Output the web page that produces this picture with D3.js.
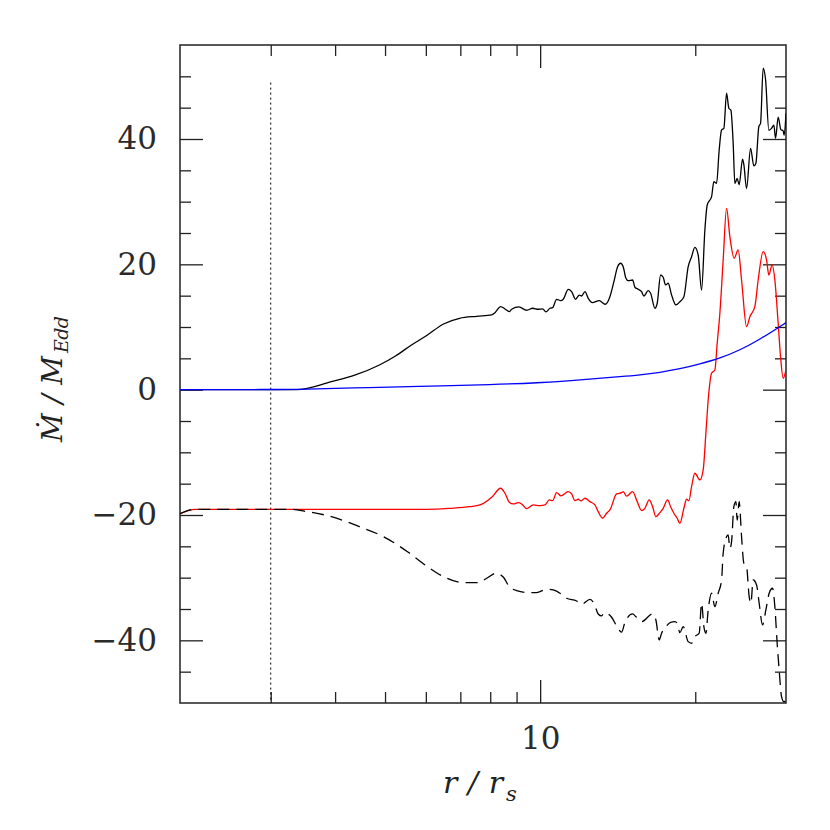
<!DOCTYPE html>
<html><head><meta charset="utf-8">
<script src="https://cdn.jsdelivr.net/npm/d3@7"></script>
<style>body{margin:0;background:#fff}</style>
</head><body><svg id="c" width="830" height="830"></svg>
<script>
// ---- data: [r/r_s, Mdot/M_Edd] ----
const totalRate = [[2.0,0],[3.373,0],[3.934,1.28],[4.379,2.35],[4.875,3.94],[5.239,5.38],[5.627,7.13],[6.044,8.73],[6.492,10.48],[6.974,11.39],[7.531,11.71],[8.052,11.92],[8.172,12.29],[8.382,13.25],[8.545,12.88],[8.711,12.45],[8.804,12.83],[9.096,13.2],[9.414,12.67],[9.670,12.99],[9.915,12.83],[10.111,12.88],[10.262,12.4],[10.447,12.99],[10.574,13.08],[10.764,14.42],[10.973,14.2],[11.087,14.42],[11.337,16.0],[11.510,15.64],[11.717,14.42],[11.908,15.1],[12.036,14.95],[12.215,15.64],[12.397,14.58],[12.621,13.88],[13.020,14.2],[13.374,13.63],[13.658,14.84],[13.904,17.23],[14.135,19.63],[14.326,20.17],[14.494,19.63],[14.670,17.78],[14.821,17.39],[15.115,17.5],[15.272,16.34],[15.499,16.02],[15.736,15.64],[15.897,14.95],[16.207,15.8],[16.381,15.38],[16.699,12.99],[16.873,13.79],[17.129,18.3],[17.330,17.93],[17.516,16.71],[17.721,16.98],[17.992,15.11],[18.342,13.52],[18.672,14.04],[19.009,14.84],[19.378,19.63],[19.673,21.22],[19.966,22.72],[20.263,21.49],[20.572,15.9],[20.878,25.48],[21.095,29.47],[21.512,30.8],[21.734,33.19],[21.998,32.92],[22.256,38.25],[22.495,41.44],[22.727,41.7],[23.003,47.3],[23.241,44.9],[23.450,44.6],[23.692,39.3],[23.872,32.9],[24.120,33.7],[24.335,32.7],[24.706,36.8],[24.851,35.9],[25.153,32.1],[25.606,38.5],[25.986,35.7],[26.220,36.1],[26.574,42.0],[26.776,42.5],[27.090,51.3],[27.381,49.5],[27.787,41.4],[28.124,41.7],[28.415,42.2],[28.632,40.1],[28.967,43.5],[29.318,41.5],[29.622,41.3],[29.755,40.6],[30.0,44.1]];

const netRate = [[2.0,-19.8],[2.141,-19.09],[3.42,-19.09],[6.044,-19.09],[6.683,-18.93],[7.308,-18.67],[7.642,-18.4],[8.054,-17.17],[8.382,-15.73],[8.545,-16.53],[8.711,-17.97],[8.868,-18.24],[9.068,-18.03],[9.206,-18.24],[9.414,-18.99],[9.696,-18.4],[9.990,-18.51],[10.216,-18.4],[10.415,-17.6],[10.574,-17.71],[10.764,-16.43],[10.973,-16.96],[11.337,-16.28],[11.510,-16.64],[11.681,-17.71],[11.855,-17.49],[11.999,-17.76],[12.215,-17.33],[12.491,-17.87],[12.773,-18.4],[12.962,-19.47],[13.219,-20.52],[13.457,-19.72],[13.658,-19.2],[14.072,-16.64],[14.391,-16.43],[14.494,-16.28],[14.715,-17.0],[15.115,-16.28],[15.430,-17.87],[15.736,-19.3],[15.969,-18.93],[16.279,-17.6],[16.528,-18.67],[16.774,-20.26],[17.076,-19.62],[17.330,-18.93],[17.673,-17.6],[17.912,-18.67],[18.178,-19.72],[18.448,-20.52],[18.672,-21.32],[19.009,-18.93],[19.239,-17.49],[19.438,-17.71],[19.673,-15.48],[19.966,-13.34],[20.417,-14.41],[20.720,-12.81],[20.97,-7.0],[21.189,-1.64],[21.512,2.62],[21.832,3.14],[22.058,7.4],[22.325,12.19],[22.657,20.7],[23.003,28.94],[23.345,24.42],[23.798,20.97],[24.227,22.3],[24.597,17.5],[25.153,10.05],[25.527,11.65],[26.103,13.25],[26.492,17.5],[27.090,22.02],[27.503,20.7],[27.787,18.3],[28.202,19.9],[28.543,17.5],[28.967,10.6],[29.278,5.27],[29.622,1.82],[30.0,3.14]];

const inflowRate = [[2.0,-19.8],[2.141,-19.09],[3.289,-19.09],[3.534,-19.47],[3.934,-20.26],[4.458,-21.86],[4.965,-23.46],[5.527,-25.85],[6.044,-28.24],[6.492,-29.84],[6.974,-30.74],[7.093,-30.8],[7.584,-30.8],[7.874,-30.1],[8.209,-29.3],[8.488,-29.94],[8.711,-31.43],[9.003,-32.07],[9.554,-32.39],[9.844,-32.39],[10.293,-31.85],[10.603,-31.96],[11.007,-32.65],[11.256,-33.29],[11.770,-33.72],[12.036,-34.24],[12.491,-33.45],[12.716,-34.08],[12.962,-35.79],[13.160,-36.1],[13.315,-35.58],[13.762,-36.32],[14.072,-37.7],[14.391,-38.7],[14.604,-37.15],[15.115,-35.79],[15.341,-36.22],[15.736,-37.02],[16.528,-35.79],[16.774,-36.75],[17.023,-39.94],[17.206,-38.87],[17.462,-38.07],[17.912,-37.12],[18.260,-37.02],[18.448,-37.28],[18.672,-38.77],[18.950,-37.82],[19.378,-40.21],[19.673,-40.47],[19.966,-39.41],[20.353,-38.87],[20.572,-34.08],[20.785,-37.82],[20.972,-38.87],[21.189,-35.15],[21.512,-32.49],[21.832,-34.63],[22.157,-32.49],[22.495,-30.37],[22.657,-26.1],[23.003,-23.46],[23.169,-23.19],[23.345,-25.31],[23.523,-24.25],[23.765,-18.67],[23.979,-17.87],[24.120,-20.8],[24.335,-17.87],[24.597,-23.46],[24.851,-27.7],[25.153,-28.24],[25.448,-33.03],[25.642,-34.08],[25.906,-30.37],[26.301,-31.16],[26.610,-34.08],[27.015,-37.54],[27.419,-35.15],[27.825,-32.49],[28.250,-31.69],[28.543,-34.63],[28.838,-40.47],[29.097,-44.73],[29.409,-48.99],[29.715,-49.8],[30.0,-49.5]];

const blueRate = [[2.0,0],[3.0,0.02],[3.42,0.06],[4.70,0.35],[6.11,0.58],[8.05,0.8],[9.99,1.1],[11.51,1.44],[13.06,1.82],[14.28,2.07],[15.62,2.35],[17.08,2.75],[18.67,3.3],[20.42,4.1],[22.33,5.0],[24.41,6.3],[26.69,8.0],[30.0,10.7]];

const xDomain = [2, 30];
const yDomain = [-50, 55];
const xMajorTicks = [10];
const xMinorTicks = [3,4,5,6,7,8,9,20];
const yMajorTicks = [-40,-20,0,20,40];
const yMinorTicks = [-45,-35,-30,-25,-15,-10,-5,5,10,15,25,30,35,45,50];
const iscoR = 3, iscoTop = 49;

// ---- drawing ----
const L=180,R=786,T=45,B=703;
const svg = d3.select('#c');
const x = d3.scaleLog().domain(xDomain).range([L,R]);
const y = d3.scaleLinear().domain(yDomain).range([B,T]);
const FONT = "'DejaVu Serif', serif";
const INK = '#222';

svg.append('defs').append('clipPath').attr('id','clip')
  .append('rect').attr('x',L).attr('y',T).attr('width',R-L).attr('height',B-T);

function axis(gen, tr, size, labels, pad){
  gen.tickSize(size).tickPadding(pad||3);
  if(!labels) gen.tickFormat(()=> '');
  const g = svg.append('g').attr('transform',tr).call(gen);
  g.select('.domain').remove();
  g.selectAll('line').attr('stroke',INK).attr('stroke-width',1.3);
  g.selectAll('text').attr('font-family',FONT).attr('font-size',31).attr('fill','#2a2a2a');
  return g;
}
// bottom
axis(d3.axisBottom(x).tickValues(xMinorTicks), `translate(0,${B})`, -11, false);
axis(d3.axisBottom(x).tickValues(xMajorTicks).tickFormat(d3.format('d')), `translate(0,${B})`, -23, true, 24);
// top
axis(d3.axisTop(x).tickValues(xMinorTicks), `translate(0,${T})`, -11, false);
axis(d3.axisTop(x).tickValues(xMajorTicks), `translate(0,${T})`, -23, false);
// left
axis(d3.axisLeft(y).tickValues(yMinorTicks), `translate(${L},0)`, -11, false);
axis(d3.axisLeft(y).tickValues(yMajorTicks).tickFormat(d3.format('d')), `translate(${L},0)`, -23, true, 23);
// right
axis(d3.axisRight(y).tickValues(yMinorTicks), `translate(${R},0)`, -11, false);
axis(d3.axisRight(y).tickValues(yMajorTicks), `translate(${R},0)`, -23, false);

// frame
svg.append('rect').attr('x',L).attr('y',T).attr('width',R-L).attr('height',B-T)
  .attr('fill','none').attr('stroke',INK).attr('stroke-width',1.5);

// ISCO dotted line
svg.append('line').attr('x1',x(iscoR)).attr('x2',x(iscoR)).attr('y1',y(iscoTop)).attr('y2',y(yDomain[0]))
  .attr('stroke','#000').attr('stroke-width',1).attr('stroke-dasharray','2,3');

const line = d3.line().x(d=>x(d[0])).y(d=>y(d[1])).curve(d3.curveMonotoneX);
const smooth = d3.line().x(d=>x(d[0])).y(d=>y(d[1])).curve(d3.curveBasis);
const plot = svg.append('g').attr('clip-path','url(#clip)');
plot.append('path').datum(totalRate).attr('d',line).attr('fill','none').attr('stroke','#000').attr('stroke-width',1.3);
plot.append('path').datum(netRate).attr('d',line).attr('fill','none').attr('stroke','#ff0000').attr('stroke-width',1.3);
plot.append('path').datum(inflowRate).attr('d',line).attr('fill','none').attr('stroke','#000').attr('stroke-width',1.3).attr('stroke-dasharray','12,7');
plot.append('path').datum(blueRate).attr('d',smooth).attr('fill','none').attr('stroke','#0000ff').attr('stroke-width',1.3);

// axis titles
const yt = svg.append('g').attr('transform','translate(62,442) rotate(-90)');
yt.append('text').attr('x',0).attr('y',0).attr('font-family',FONT).attr('font-style','italic')
  .attr('font-size',28).attr('fill',INK).attr('textLength',86).attr('lengthAdjust','spacing').text('Ṁ/M');
yt.append('text').attr('x',89).attr('y',6).attr('font-family',FONT).attr('font-style','italic')
  .attr('font-size',19).attr('fill',INK).attr('textLength',37).attr('lengthAdjust','spacing').text('Edd');

const xt = svg.append('g');
xt.append('text').attr('x',443).attr('y',793).attr('font-family',FONT).attr('font-style','italic')
  .attr('font-size',30).attr('fill',INK).attr('textLength',60).attr('lengthAdjust','spacing').text('r/r');
xt.append('text').attr('x',506).attr('y',801).attr('font-family',FONT).attr('font-style','italic')
  .attr('font-size',21).attr('fill',INK).text('s');
</script>
</body></html>
